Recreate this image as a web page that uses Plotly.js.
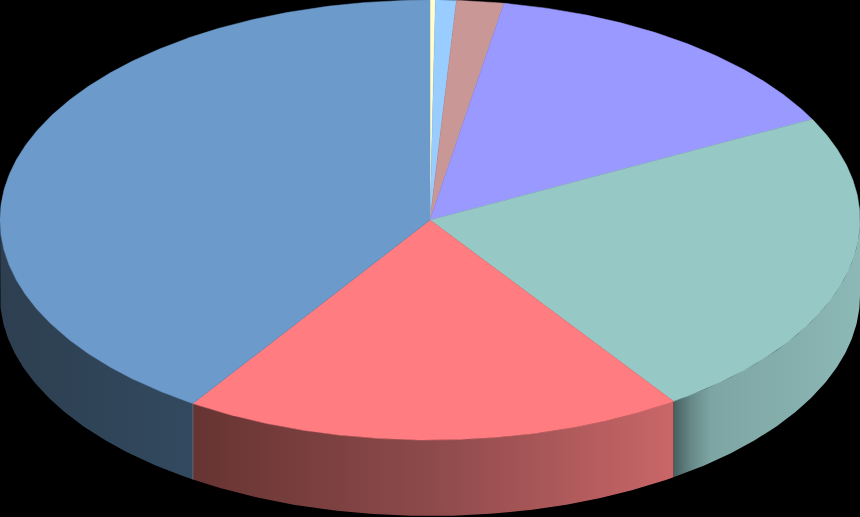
<!DOCTYPE html>
<html>
<head>
<meta charset="utf-8">
<script src="https://cdn.plot.ly/plotly-3.0.1.min.js"></script>
<style>html,body{margin:0;padding:0;background:#000;overflow:hidden}#chart{width:860px;height:517px}</style>
</head>
<body>
<div id="chart"></div>
<script>
// Slice shares (percent, clockwise from 12 o'clock)
var categories = ["A", "B", "C", "D", "E", "F", "G"];
var values = [0.2, 0.78, 1.77, 14.67, 23.0, 18.88, 40.7];
var topColors = ["#FFFFCC", "#99CCFF", "#CA9797", "#9999FF", "#96C8C6", "#FF7C80", "#6C9ACB"];
// Side wall shading, left to right across each wall
var sideScales = {
  4: [[0, "#465F5F"], [0.1, "#688B8A"], [0.2, "#7DA5A3"], [1, "#8CB8B6"]],
  5: [[0, "#663432"], [0.5, "#8E4A4B"], [1, "#C96668"]],
  6: [[0, "#2D3F50"], [1, "#32495F"]]
};
var seamColor = "rgba(125,145,170,0.55)";
var RX = 430, RY = 220, DEPTH = 76;

function pt(deg) {
  var t = deg * Math.PI / 180;
  return [RX * Math.sin(t), RY * Math.cos(t)];
}
function arc(a, b) {
  var n = Math.max(2, Math.ceil(Math.abs(b - a) * 2)), out = [];
  for (var i = 0; i <= n; i++) out.push(pt(a + (b - a) * i / n));
  return out;
}
var total = values.reduce(function (s, v) { return s + v; }, 0);
var sides = [], tops = [], seams = [], acc = 0;
values.forEach(function (v, i) {
  var a = acc / total * 360, b = (acc + v) / total * 360;
  acc += v;
  var lo = Math.max(a, 90), hi = Math.min(b, 270);
  if (hi > lo && sideScales[i]) {
    var upper = arc(lo, hi), lower = arc(hi, lo);
    var xs = upper.map(function (p) { return p[0]; }).concat(lower.map(function (p) { return p[0]; }));
    var ys = upper.map(function (p) { return p[1]; }).concat(lower.map(function (p) { return p[1] - DEPTH; }));
    xs.push(xs[0]); ys.push(ys[0]);
    sides.push({
      type: "scatter", mode: "lines", name: categories[i] + " side", x: xs, y: ys, fill: "toself",
      line: { width: 0, color: "rgba(0,0,0,0)" },
      fillgradient: { type: "horizontal", colorscale: sideScales[i] },
      hoverinfo: "skip", showlegend: false
    });
    if (i === 6) {
      var s = pt(a);
      seams.push({
        type: "scatter", mode: "lines", name: "seam", x: [s[0], s[0]], y: [s[1], s[1] - DEPTH],
        line: { width: 1, color: seamColor }, hoverinfo: "skip", showlegend: false
      });
    }
  }
  var rim = arc(a, b);
  var tx = [0].concat(rim.map(function (p) { return p[0]; }), [0]);
  var ty = [0].concat(rim.map(function (p) { return p[1]; }), [0]);
  tops.push({
    type: "scatter", mode: "lines", name: categories[i], x: tx, y: ty, fill: "toself",
    fillcolor: topColors[i], line: { width: 0.5, color: topColors[i] },
    hoverinfo: "name", showlegend: false
  });
});

var layout = {
  width: 860, height: 517,
  margin: { l: 0, r: 0, t: 0, b: 0 },
  paper_bgcolor: "#000", plot_bgcolor: "#000",
  showlegend: false,
  xaxis: { range: [-430, 430], visible: false, fixedrange: true },
  yaxis: { range: [-297, 220], visible: false, fixedrange: true }
};
Plotly.newPlot("chart", sides.concat(seams, tops), layout, { displayModeBar: false, staticPlot: true });
</script>
</body>
</html>
